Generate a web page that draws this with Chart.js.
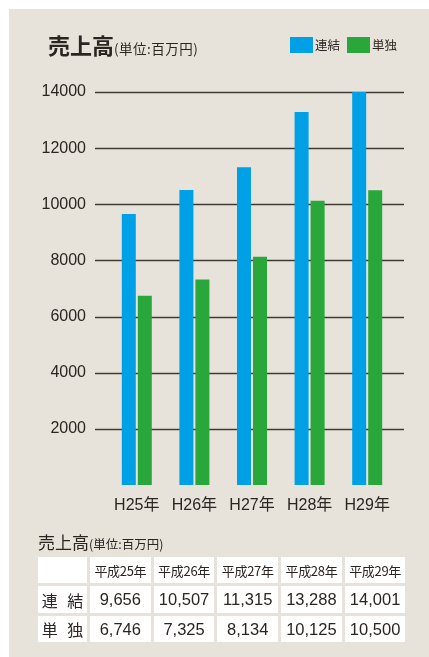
<!DOCTYPE html>
<html lang="ja">
<head>
<meta charset="utf-8">
<script src="https://cdn.jsdelivr.net/npm/chart.js@4/dist/chart.umd.min.js"></script>
<style>
  html, body { margin: 0; padding: 0; background: #fff; }
  body { width: 429px; height: 657px; position: relative; overflow: hidden;
         font-family: "Noto Sans CJK JP", "Liberation Sans", sans-serif; color: #2b2522; }
  .panel { position: absolute; left: 9px; top: 9px; width: 420px; height: 648px; background: #e8e3da; }
  #chart { position: absolute; left: 0; top: 0; }
  .title { position: absolute; left: 48px; top: 28px; white-space: nowrap; }
  .title b { font-size: 22px; font-weight: 700; }
  .title span { font-size: 13.5px; letter-spacing: 0.5px; }
  .legend { position: absolute; top: 37px; left: 290px; display: flex; align-items: center; font-size: 12.5px; }
  .legend i { display: inline-block; width: 23px; height: 16px; margin-right: 2px; }
  .legend em { font-style: normal; margin-right: 7px; line-height: 16px; }
  .subtitle { position: absolute; left: 38px; top: 529px; white-space: nowrap; }
  .subtitle b { font-size: 17px; font-weight: 400; }
  .subtitle span { font-size: 12.5px; }
  .table { position: absolute; left: 38px; top: 557px; display: grid;
           grid-template-columns: 49px repeat(5, 60.7px); grid-auto-rows: 26.3px; gap: 3.2px 3px; }
  .table div { background: #fff; display: flex; align-items: center; justify-content: center; }
  .table .h { font-size: 13px; letter-spacing: -0.3px; }
  .table .r { font-size: 16px; letter-spacing: 3px; padding-left: 3px; }
  .table .v { font-size: 16.5px; font-family: "Liberation Sans", sans-serif; }
</style>
</head>
<body>
<div class="panel"></div>
<canvas id="chart" width="429" height="530"></canvas>
<div class="title"><b>売上高</b><span>(単位:百万円)</span></div>
<div class="legend" id="legend"></div>
<div class="subtitle"><b>売上高</b><span>(単位:百万円)</span></div>
<div class="table" id="table"></div>
<script>
const categories = ['H25年', 'H26年', 'H27年', 'H28年', 'H29年'];
const tableYears = ['平成25年', '平成26年', '平成27年', '平成28年', '平成29年'];
const seriesNames = ['連結', '単独'];
const rowLabels = ['連 結', '単 独'];
const consolidated = [9656, 10507, 11315, 13288, 14001];
const standalone = [6746, 7325, 8134, 10125, 10500];
const yTicks = [2000, 4000, 6000, 8000, 10000, 12000, 14000];

const colors = ['#00a0e6', '#2aa73b'];
const textColor = '#2b2522';

// legend
const legend = document.getElementById('legend');
seriesNames.forEach((name, i) => {
    legend.insertAdjacentHTML('beforeend', `<i style="background:${colors[i]}"></i><em>${name}</em>`);
});

// table
const table = document.getElementById('table');
const fmt = v => v.toLocaleString('en-US');
let html = '<div></div>' + tableYears.map(y => `<div class="h">${y}</div>`).join('');
[consolidated, standalone].forEach((row, i) => {
    html += `<div class="r">${rowLabels[i]}</div>` + row.map(v => `<div class="v">${fmt(v)}</div>`).join('');
});
table.innerHTML = html;

// grid lines run a bit past the plot area on both sides
const gridLines = {
    id: 'gridLines',
    beforeDatasetsDraw(chart) {
        const { ctx, chartArea, scales: { y } } = chart;
        ctx.save();
        ctx.strokeStyle = '#3f3a36';
        ctx.lineWidth = 1.3;
        yTicks.forEach(v => {
            const py = Math.round(y.getPixelForValue(v)) + 0.5;
            ctx.beginPath();
            ctx.moveTo(chartArea.left - 13, py);
            ctx.lineTo(chartArea.right + 8, py);
            ctx.stroke();
        });
        ctx.restore();
    }
};

new Chart(document.getElementById('chart'), {
    type: 'bar',
    data: {
        labels: categories,
        datasets: [
            { label: seriesNames[0], data: consolidated, backgroundColor: colors[0] },
            { label: seriesNames[1], data: standalone, backgroundColor: colors[1] }
        ]
    },
    options: {
        responsive: false,
        animation: false,
        categoryPercentage: 0.556,
        barPercentage: 0.875,
        layout: { padding: { left: 0, right: 33, top: 92, bottom: 0 } },
        plugins: {
            legend: { display: false },
            tooltip: { enabled: false }
        },
        scales: {
            x: {
                grid: { display: false, drawTicks: false },
                border: { display: false },
                ticks: {
                    color: textColor,
                    padding: 11,
                    font: { family: '"Liberation Sans", "Noto Sans CJK JP", sans-serif', size: 16 }
                },
                afterFit: s => { s.height = 45; }
            },
            y: {
                min: 0,
                max: 14000,
                grid: { display: false, drawTicks: false },
                border: { display: false },
                ticks: {
                    stepSize: 2000,
                    color: textColor,
                    padding: 22,
                    font: { family: '"Liberation Sans", sans-serif', size: 16 },
                    callback: v => v === 0 ? '' : String(v)
                },
                afterFit: s => { s.width = 108; }
            }
        }
    },
    plugins: [gridLines]
});
</script>
</body>
</html>
